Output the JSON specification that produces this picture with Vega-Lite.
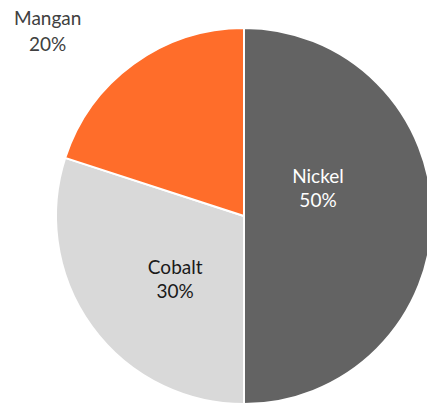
{
  "$schema": "https://vega.github.io/schema/vega-lite/v6.json",
  "width": 488,
  "height": 432,
  "padding": 0,
  "autosize": {"type": "none"},
  "background": "white",
  "config": {"view": {"stroke": null}},
  "data": {
    "values": [
      {"cat": "Nickel", "value": 50, "rank": 1, "label": ["Nickel", "50%"]},
      {"cat": "Cobalt", "value": 30, "rank": 2, "label": ["Cobalt", "30%"]},
      {"cat": "Mangan", "value": 20, "rank": 3, "label": ["Mangan", "20%"]}
    ]
  },
  "encoding": {
    "theta": {"field": "value", "type": "quantitative", "stack": true},
    "order": {"field": "rank", "type": "quantitative"}
  },
  "layer": [
    {
      "mark": {"type": "arc", "radius": 188, "stroke": "white", "strokeWidth": 2},
      "encoding": {
        "color": {
          "field": "cat",
          "type": "nominal",
          "scale": {"domain": ["Nickel", "Cobalt", "Mangan"], "range": ["#636363", "#d9d9d9", "#ff6d2a"]},
          "legend": null
        }
      }
    },
    {
      "mark": {"type": "text", "radius": 74, "dy": -39, "font": "Lato", "fontSize": 19, "lineHeight": 24, "color": "white", "baseline": "middle"},
      "encoding": {"text": {"condition": {"test": "datum.cat === 'Nickel'", "field": "label"}, "value": ""}}
    },
    {
      "mark": {"type": "text", "radius": 90, "dx": 4, "dy": -1, "font": "Lato", "fontSize": 19, "lineHeight": 24, "color": "#1a1a1a", "baseline": "middle"},
      "encoding": {"text": {"condition": {"test": "datum.cat === 'Cobalt'", "field": "label"}, "value": ""}}
    },
    {
      "mark": {"type": "text", "radius": 220, "dx": -67, "dy": -19, "font": "Lato", "fontSize": 19, "lineHeight": 26, "color": "#404040", "baseline": "middle"},
      "encoding": {"text": {"condition": {"test": "datum.cat === 'Mangan'", "field": "label"}, "value": ""}}
    }
  ]
}
